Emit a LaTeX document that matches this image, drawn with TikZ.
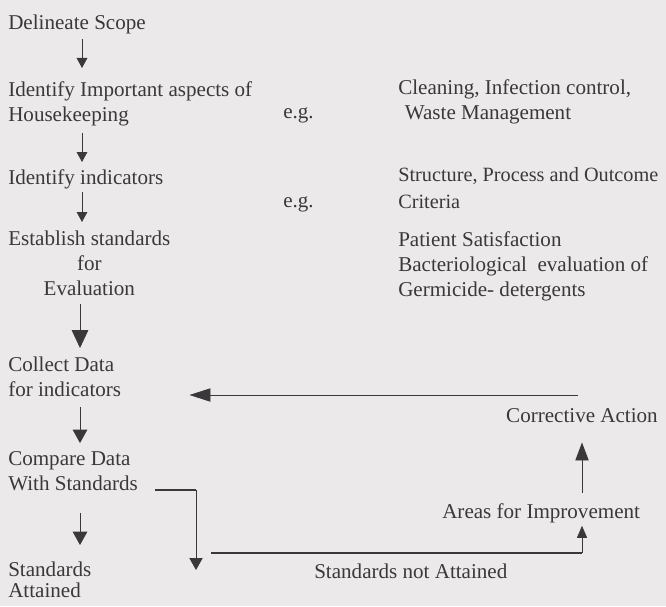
\documentclass[tikz,border=0pt]{standalone}
\usepackage{fontspec}
\setmainfont{Liberation Serif}
\usetikzlibrary{arrows.meta}
\definecolor{ink}{RGB}{58,56,58}
\definecolor{paper}{RGB}{236,233,234}

\begin{document}
\begin{tikzpicture}[x=0.75pt,y=-0.75pt,color=ink,
	txt/.style={inner sep=0pt,text=ink,font=\fontsize{15.8}{18.75}\selectfont,align=left,anchor=north west},
	arr/.style 2 args={line width=0.6pt,-{Triangle[length=#1,width=#2]}},
	heavy/.style={draw=ink,line width=1.3pt}]
	\fill[paper] (0,0) rectangle (666,606);
	\useasboundingbox (0,0) rectangle (666,606);
	
	\node[txt] at (8,15) (scope) {Delineate Scope};
	\node[txt] at (8,81) (aspects) {Identify Important aspects of\\Housekeeping};
	\node[txt] at (8,169) (indic) {Identify indicators};
	\node[txt,align=center] at (8,231) (estab) {Establish standards\\for\\Evaluation};
	\node[txt] at (8,357) (collect) {Collect Data\\for indicators};
	\node[txt] at (8,451) (compare) {Compare Data\\With Standards};
	\node[txt] at (8,562) (attained) {Standards\\[-3pt]Attained};
	
	\node[txt,anchor=base west] at (283,118) (eg1) {e.g.};
	\node[txt,anchor=base west] at (283,207) (eg2) {e.g.};
	
	\node[txt] at (398,79) (clean) {Cleaning, Infection control,\\\hspace*{5pt}Waste Management};
	\node[txt,font=\fontsize{15.2}{18.75}\selectfont] at (398,167) (struct) {Structure, Process and Outcome\\[1.5pt]Criteria};
	\node[txt] at (398,231) (patient) {Patient Satisfaction\\Bacteriological\ \ evaluation of\\Germicide- detergents};
	
	\node[txt,anchor=base east] at (658,422) (corrective) {Corrective Action};
	\node[txt,anchor=base west] at (442,518) (areas) {Areas for Improvement};
	\node[txt,anchor=base west] at (314,578) (notatt) {Standards not Attained};
	
	\coordinate (c1) at (82,0);
	\coordinate (c2) at (80,0);
	\coordinate (fb) at (578,395);
	\coordinate (br) at (196,490);
	\coordinate (brend) at (196,570);
	\coordinate (nl) at (211,553);
	\coordinate (nr) at (582,553);
	
	\path[arr={7.5pt}{8pt}]
	(scope.south -| c1) edge[shorten <=3.5pt,shorten >=9.75pt] (aspects.north -| c1)
	(aspects.south -| c1) edge[shorten <=5pt,shorten >=5.25pt] (indic.north -| c1)
	(indic.south -| c1) edge[shorten <=2pt,shorten >=6.75pt] (estab.north -| c1);
	
	\path[arr={13.5pt}{12.5pt}]
	(estab.south -| c2) edge[shorten <=6pt,shorten >=6.75pt] (collect.north -| c2);
	
	\path[arr={10pt}{11pt}]
	(collect.south -| c2) edge[shorten <=7.5pt,shorten >=6pt] (compare.north -| c2)
	(compare.south -| c2) edge[shorten <=16.5pt,shorten >=12.75pt] (attained.north -| c2);
	
	\draw[heavy,shorten <=12.75pt] (compare.east |- br) -- (br);
	\draw[arr={9pt}{10pt}] (br) -- (brend);
	
	\draw[heavy] (nl) -- (nr);
	\draw[arr={9pt}{7.5pt},shorten >=2.25pt] (nr) -- (nr |- areas.south);
	\draw[arr={13.5pt}{10pt},shorten <=7.5pt,shorten >=15pt] (areas.north -| nr) -- (corrective.south -| nr);
	
	\draw[arr={15.75pt}{10pt},shorten >=51pt] (fb) -- (fb -| collect.east);
\end{tikzpicture}
\end{document}
